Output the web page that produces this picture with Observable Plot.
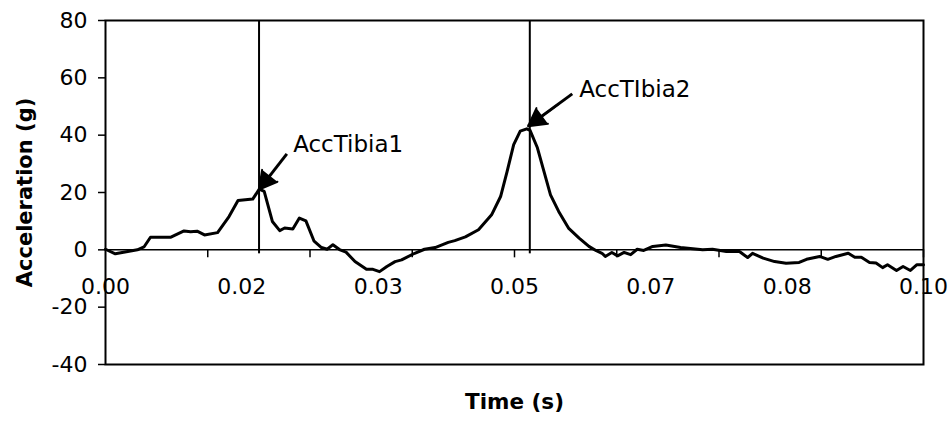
<!DOCTYPE html>
<html>
<head>
<meta charset="utf-8">
<script src="https://cdn.jsdelivr.net/npm/d3@7"></script>
<script src="https://cdn.jsdelivr.net/npm/@observablehq/plot@0.6"></script>
<style>
  html, body { margin: 0; padding: 0; background: #fff; }
  #chart { width: 948px; height: 428px; }
</style>
</head>
<body>
<div id="chart"></div>
<script>
// Time (s)
const times = [
  0.0000, 0.0012, 0.0039, 0.0047, 0.0055, 0.0080, 0.0096, 0.0104, 0.0112, 0.0121,
  0.0137, 0.0151, 0.0162, 0.0180, 0.0188, 0.0194, 0.0204, 0.0213, 0.0219, 0.0229,
  0.0237, 0.0245, 0.0255, 0.0264, 0.0271, 0.0278, 0.0286, 0.0294, 0.0305, 0.0319,
  0.0327, 0.0335, 0.0344, 0.0354, 0.0362, 0.0378, 0.0390, 0.0403, 0.0419, 0.0427,
  0.0440, 0.0456, 0.0472, 0.0483, 0.0491, 0.0499, 0.0507, 0.0515, 0.0519, 0.0528,
  0.0536, 0.0544, 0.0554, 0.0566, 0.0579, 0.0591, 0.0600, 0.0607, 0.0611, 0.0619,
  0.0626, 0.0634, 0.0642, 0.0650, 0.0658, 0.0669, 0.0685, 0.0703, 0.0730, 0.0742,
  0.0759, 0.0775, 0.0785, 0.0791, 0.0804, 0.0818, 0.0832, 0.0848, 0.0857, 0.0873,
  0.0883, 0.0893, 0.0908, 0.0916, 0.0924, 0.0934, 0.0942, 0.0950, 0.0956, 0.0967,
  0.0975, 0.0984, 0.0992, 0.1000
];
// Acceleration (g)
const accel = [
  0.2, -1.4, 0.0, 1.0, 4.4, 4.4, 6.6, 6.3, 6.5, 5.2,
  6.0, 11.6, 17.2, 17.7, 21.2, 20.4, 9.9, 6.7, 7.6, 7.3,
  11.1, 10.1, 3.0, 0.8, 0.2, 1.8, 0.1, -0.8, -4.1, -6.8,
  -6.8, -7.6, -5.8, -4.1, -3.5, -1.2, 0.2, 0.8, 2.6, 3.2,
  4.5, 7.0, 12.2, 18.6, 27.4, 36.7, 41.4, 42.2, 41.7, 35.6,
  27.4, 19.2, 13.4, 7.6, 4.1, 1.2, -0.3, -1.2, -2.3, -0.9,
  -2.1, -0.9, -1.7, 0.2, -0.2, 1.2, 1.7, 0.8, 0.0, 0.2,
  -0.6, -0.6, -2.7, -1.2, -2.9, -4.1, -4.7, -4.4, -3.3, -2.3,
  -3.3, -2.3, -1.2, -2.6, -2.6, -4.4, -4.6, -6.2, -5.2, -7.2,
  -5.8, -7.2, -5.2, -5.2
];

const yTicks = [-40, -20, 0, 20, 40, 60, 80];
const yTickLabels = ["-40", "-20", "0", "20", "40", "60", "80"];
const xLabelValues = [0, 1/60, 2/60, 3/60, 4/60, 5/60, 6/60];
const xTickLabels = ["0.00", "0.02", "0.03", "0.05", "0.07", "0.08", "0.10"];
const xMinorTicks = [0.0125, 0.025, 0.0375, 0.05, 0.0625, 0.075, 0.0875, 0.1];

// vertical markers at the two peaks
const markerTimes = [0.01877, 0.05187];

// annotations
const annLabels = ["AccTibia1", "AccTIbia2"];
const annTextX = [0.02294, 0.05791];
const annTextY = [36.7, 55.9];
const arrowTailX = [0.02217, 0.05706];
const arrowTailY = [33.5, 54.4];
const arrowTipX = [0.01877, 0.05166];
const arrowTipY = [21.0, 43.1];

const series = times.map((t, i) => ({t, g: accel[i]}));
const anns = annLabels.map((label, i) => ({
  label, tx: annTextX[i], ty: annTextY[i],
  x1: arrowTailX[i], y1: arrowTailY[i], x2: arrowTipX[i], y2: arrowTipY[i],
  // a point further back along the same direction, so the head can be drawn large
  hx: arrowTipX[i] + 2 * (arrowTailX[i] - arrowTipX[i]),
  hy: arrowTipY[i] + 2 * (arrowTailY[i] - arrowTipY[i])
}));
const xLabels = xLabelValues.map((v, i) => ({v, label: xTickLabels[i]}));

const font = "'DejaVu Sans', Arial, Helvetica, sans-serif";

const chart = Plot.plot({
  width: 948,
  height: 428,
  marginLeft: 105,
  marginRight: 25,
  marginTop: 20,
  marginBottom: 64,
  style: {fontFamily: font, color: "black", background: "white", overflow: "visible"},
  x: {domain: [0, 0.1]},
  y: {domain: [-40, 80]},
  marks: [
    Plot.axisY(yTicks, {tickSize: 7, tickPadding: 11, fontSize: 22, label: null,
      tickFormat: (d) => yTickLabels[yTicks.indexOf(d)], strokeWidth: 1.5}),
    Plot.axisX({ticks: [], label: null, tickSize: 0}),
    Plot.ruleY([0], {stroke: "black", strokeWidth: 1.5}),
    Plot.ruleX(xMinorTicks, {x: (d) => d, y1: 0, y2: 0, insetBottom: -8, stroke: "black", strokeWidth: 1.5}),
    Plot.ruleX(markerTimes, {x: (d) => d, y1: 80, y2: 0, insetBottom: -4, stroke: "black", strokeWidth: 2}),
    Plot.text(xLabels, {x: "v", y: 0, dy: 37, text: "label", fontSize: 22, fill: "black"}),
    Plot.line(series, {x: "t", y: "g", stroke: "black", strokeWidth: 3, strokeLinejoin: "round"}),
    Plot.link(anns, {x1: "x1", y1: "y1", x2: "x2", y2: "y2", stroke: "black", strokeWidth: 3}),
    Plot.arrow(anns, {x1: "hx", y1: "hy", x2: "x2", y2: "y2", insetStart: 72,
      headLength: 15, headAngle: 58, strokeWidth: 2, stroke: "black", fill: "black", strokeLinejoin: "miter"}),
    Plot.text(anns, {x: "tx", y: "ty", text: "label", textAnchor: "start", fontSize: 23, fill: "black"}),
    Plot.frame({stroke: "black", strokeWidth: 2}),
    Plot.text(["Acceleration (g)"], {frameAnchor: "left", dx: -80, textAnchor: "middle", rotate: -90, fontSize: 21, fontWeight: "bold", fill: "black"}),
    Plot.text(["Time (s)"], {frameAnchor: "bottom", dy: 44, fontSize: 21.5, fontWeight: "bold", fill: "black"})
  ]
});
document.getElementById("chart").appendChild(chart);
</script>
</body>
</html>
